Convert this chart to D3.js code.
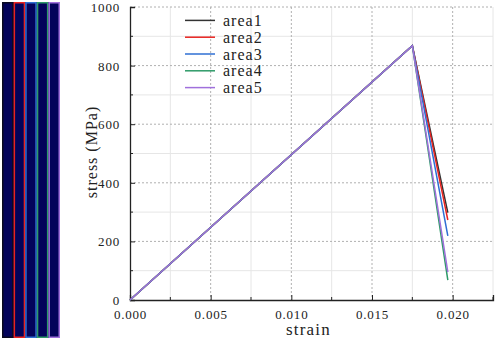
<!DOCTYPE html>
<html>
<head>
<meta charset="utf-8">
<script src="https://cdn.jsdelivr.net/npm/d3@7"></script>
<style>
  body { margin: 0; background: #fff; }
  svg { display: block; }
  text { font-family: "Liberation Serif", "Times New Roman", serif; fill: #222; }
</style>
</head>
<body>
<svg id="chart" width="498" height="341"></svg>
<script>
// stress–strain curves for five areas, plus the specimen strip on the left

const seriesNames = ["area1", "area2", "area3", "area4", "area5"];
const seriesColors = ["#333333", "#e8231f", "#2f6fd3", "#2e9a68", "#a070dc"];

// [strain, stress] per area
const area1 = [[0, 0], [0.0175, 868], [0.0197, 298]];
const area2 = [[0, 0], [0.0175, 868], [0.0197, 273]];
const area3 = [[0, 0], [0.0175, 868], [0.0197, 219]];
const area4 = [[0, 0], [0.0175, 868], [0.0197, 68]];
const area5 = [[0, 0], [0.0175, 868], [0.0197, 95]];
const series = [area1, area2, area3, area4, area5];

const xTicks = [0, 0.005, 0.010, 0.015, 0.020];
const xMinor = [0.0025, 0.0075, 0.0125, 0.0175, 0.0225];
const yTicks = [0, 200, 400, 600, 800, 1000];
const yMinor = [100, 300, 500, 700, 900];

const svg = d3.select("#chart");
const M = { l: 130, r: 493, t: 7, b: 300 };

const x = d3.scaleLinear().domain([0, 0.0225]).range([M.l, M.r]);
const y = d3.scaleLinear().domain([0, 1000]).range([M.b, M.t]);

// ---- specimen strip ----
const strip = d3.scaleBand().domain(seriesNames).range([2, 60]);
svg.append("rect").attr("x", 2).attr("y", 2).attr("width", 58).attr("height", 336)
  .attr("fill", "#03035a");
svg.selectAll("rect.stripe").data(seriesNames).join("rect").attr("class", "stripe")
  .attr("x", (d) => strip(d) + 0.75).attr("y", 2.75)
  .attr("width", strip.bandwidth() - 1.5).attr("height", 334.5)
  .attr("fill", "none")
  .attr("stroke", (d, i) => i === 0 ? "#0a0a20" : seriesColors[i])
  .attr("stroke-width", 1.5);

// ---- grid ----
const grid = svg.append("g");
grid.selectAll("line.vmin").data(xMinor).join("line")
  .attr("x1", (d) => x(d)).attr("x2", (d) => x(d)).attr("y1", M.t).attr("y2", M.b)
  .attr("stroke", "#e6e6e6").attr("stroke-width", 1);
grid.selectAll("line.hmin").data(yMinor).join("line")
  .attr("y1", (d) => y(d)).attr("y2", (d) => y(d)).attr("x1", M.l).attr("x2", M.r)
  .attr("stroke", "#e6e6e6").attr("stroke-width", 1);
grid.selectAll("line.vmaj").data(xTicks.slice(1)).join("line")
  .attr("x1", (d) => x(d)).attr("x2", (d) => x(d)).attr("y1", M.t).attr("y2", M.b)
  .attr("stroke", "#b0b0b0").attr("stroke-dasharray", "2 2");
grid.selectAll("line.hmaj").data(yTicks.slice(1)).join("line")
  .attr("y1", (d) => y(d)).attr("y2", (d) => y(d)).attr("x1", M.l).attr("x2", M.r)
  .attr("stroke", "#b0b0b0").attr("stroke-dasharray", "2 2");

// ---- axes (ticks point inward) ----
const xAxis = svg.append("g").attr("transform", `translate(0,${M.b})`);
xAxis.call(d3.axisBottom(x).tickValues(xTicks).tickSize(-5).tickPadding(10)
  .tickFormat(d3.format(".3f")));
xAxis.selectAll("line.minor").data(xMinor).join("line").attr("class", "minor")
  .attr("x1", (d) => x(d)).attr("x2", (d) => x(d)).attr("y1", 0).attr("y2", -3)
  .attr("stroke", "#222");

const yAxis = svg.append("g").attr("transform", `translate(${M.l},0)`);
yAxis.call(d3.axisLeft(y).tickValues(yTicks).tickSize(-5).tickPadding(10)
  .tickFormat(d3.format("d")));
yAxis.selectAll("line.minor").data(yMinor).join("line").attr("class", "minor")
  .attr("y1", (d) => y(d)).attr("y2", (d) => y(d)).attr("x1", 0).attr("x2", 3)
  .attr("stroke", "#222");

[xAxis, yAxis].forEach((g) => {
  g.attr("font-family", null);
  g.select(".domain").attr("stroke", "#222").attr("stroke-width", 1.3);
  g.selectAll(".tick line").attr("stroke", "#222");
  g.selectAll(".tick text").attr("font-size", 13).attr("fill", "#222")
    .attr("letter-spacing", 0.8);
});
yAxis.selectAll(".tick text").attr("dy", "0.35em");

// ---- lines ----
const line = d3.line().x((d) => x(d[0])).y((d) => y(d[1]));
svg.selectAll("path.curve").data(series).join("path").attr("class", "curve")
  .attr("d", line).attr("fill", "none")
  .attr("stroke", (d, i) => seriesColors[i]).attr("stroke-width", 1.5);

// ---- legend ----
const leg = d3.scaleBand().domain(seriesNames).range([12, 96]);
const lg = svg.selectAll("g.leg").data(seriesNames).join("g").attr("class", "leg")
  .attr("transform", (d) => `translate(0,${leg(d) + leg.bandwidth() / 2})`);
lg.append("line").attr("x1", 185).attr("x2", 215).attr("y1", 0).attr("y2", 0)
  .attr("stroke", (d, i) => seriesColors[i]).attr("stroke-width", 1.5);
lg.append("text").attr("x", 223).attr("dy", "0.35em").attr("font-size", 16)
  .attr("letter-spacing", 1).text((d) => d);

// ---- axis titles ----
svg.append("text").attr("x", (M.l + M.r) / 2 - 3).attr("y", 335)
  .attr("text-anchor", "middle").attr("font-size", 17).attr("letter-spacing", 1.2)
  .text("strain");
svg.append("text").attr("transform", "translate(97,152) rotate(-90)")
  .attr("text-anchor", "middle").attr("font-size", 16).attr("letter-spacing", 1)
  .text("stress (MPa)");
</script>
</body>
</html>
